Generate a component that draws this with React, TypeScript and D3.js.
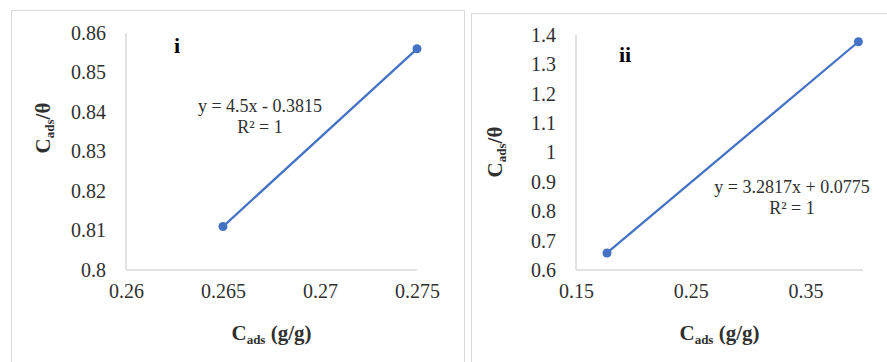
import { useEffect, useRef } from "react"
import * as d3 from "d3"

// panel i
const xI = [0.265, 0.275]
const yI = [0.811, 0.856]
const xTicksI = [0.26, 0.265, 0.27, 0.275]
const yTicksI = [0.8, 0.81, 0.82, 0.83, 0.84, 0.85, 0.86]
const eqI = ["y = 4.5x - 0.3815", "R² = 1"]

// panel ii
const xII = [0.177, 0.396]
const yII = [0.658, 1.377]
const xTicksII = [0.15, 0.25, 0.35]
const yTicksII = [0.6, 0.7, 0.8, 0.9, 1, 1.1, 1.2, 1.3, 1.4]
const eqII = ["y = 3.2817x + 0.0775", "R² = 1"]

const FONT = "Liberation Serif, Times New Roman, Times, serif"
const BLUE = "#4472c4"
const GRID = "#d9d9d9"
const INK = "#303030"

interface Panel {
  xs: number[]
  ys: number[]
  xTicks: number[]
  yTicks: number[]
  xDomain: [number, number]
  yDomain: [number, number]
  box: { x: number; y: number; w: number; h: number }
  plot: { left: number; right: number; top: number; bottom: number }
  label: string
  labelPos: [number, number]
  eq: string[]
  eqPos: [number, number]
  yTitleY: number
  yTitleX: number
}

export default function App() {
  const svgRef = useRef<SVGSVGElement>(null)

  useEffect(() => {
    if (!svgRef.current) return
    const svg = d3.select(svgRef.current)
    svg.selectAll("*").remove()

    const panels: Panel[] = [
      {
        xs: xI,
        ys: yI,
        xTicks: xTicksI,
        yTicks: yTicksI,
        xDomain: [0.26, 0.275],
        yDomain: [0.8, 0.86],
        box: { x: 11, y: 10, w: 453, h: 400 },
        plot: { left: 126, right: 417, top: 33, bottom: 270 },
        label: "i",
        labelPos: [174, 53],
        eq: eqI,
        eqPos: [260, 112],
        yTitleX: 50,
        yTitleY: 128,
      },
      {
        xs: xII,
        ys: yII,
        xTicks: xTicksII,
        yTicks: yTicksII,
        xDomain: [0.15, 0.4],
        yDomain: [0.6, 1.4],
        box: { x: 471, y: 13, w: 440, h: 400 },
        plot: { left: 576, right: 863, top: 35, bottom: 270 },
        label: "ii",
        labelPos: [619, 62],
        eq: eqII,
        eqPos: [792, 193],
        yTitleX: 502,
        yTitleY: 152,
      },
    ]

    panels.forEach((p) => {
      const g = svg.append("g").attr("font-family", FONT)

      g.append("rect")
        .attr("x", p.box.x + 0.5)
        .attr("y", p.box.y + 0.5)
        .attr("width", p.box.w)
        .attr("height", p.box.h)
        .attr("fill", "white")
        .attr("stroke", GRID)

      const x = d3.scaleLinear().domain(p.xDomain).range([p.plot.left, p.plot.right])
      const y = d3.scaleLinear().domain(p.yDomain).range([p.plot.bottom, p.plot.top])

      // axes
      const xAxis = g
        .append("g")
        .attr("transform", `translate(0,${p.plot.bottom})`)
        .call(d3.axisBottom(x).tickValues(p.xTicks).tickSize(0).tickPadding(14).tickFormat((d) => String(d)))
      const yAxis = g
        .append("g")
        .attr("transform", `translate(${p.plot.left},0)`)
        .call(d3.axisLeft(y).tickValues(p.yTicks).tickSize(0).tickPadding(20).tickFormat((d) => String(d)))

      ;[xAxis, yAxis].forEach((a) => {
        a.attr("font-family", FONT).attr("font-size", 20)
        a.select(".domain").attr("stroke", GRID).attr("stroke-width", 1.5)
        a.selectAll("text").attr("fill", INK)
      })
      xAxis.select(".domain").attr("d", `M${p.plot.left},0H${p.plot.right}`)
      yAxis.select(".domain").attr("d", `M0,${p.plot.top}V${p.plot.bottom}`)

      // line + markers
      const pts = p.xs.map((v, i) => [v, p.ys[i]] as [number, number])
      const line = d3
        .line<[number, number]>()
        .x((d) => x(d[0]))
        .y((d) => y(d[1]))
      g.append("path")
        .attr("d", line(pts))
        .attr("fill", "none")
        .attr("stroke", BLUE)
        .attr("stroke-width", 2.25)
      g.selectAll(".pt")
        .data(pts)
        .enter()
        .append("circle")
        .attr("cx", (d) => x(d[0]))
        .attr("cy", (d) => y(d[1]))
        .attr("r", 4.5)
        .attr("fill", BLUE)

      // panel label
      g.append("text")
        .attr("x", p.labelPos[0])
        .attr("y", p.labelPos[1])
        .attr("font-weight", "bold")
        .attr("font-size", 22)
        .text(p.label)

      // equation
      p.eq.forEach((t, i) => {
        g.append("text")
          .attr("x", p.eqPos[0])
          .attr("y", p.eqPos[1] + i * 21)
          .attr("text-anchor", "middle")
          .attr("font-size", 18)
          .attr("fill", INK)
          .text(t)
      })

      // x title
      const xt = g
        .append("text")
        .attr("x", (p.plot.left + p.plot.right) / 2)
        .attr("y", 340)
        .attr("text-anchor", "middle")
        .attr("font-weight", "bold")
        .attr("font-size", 21)
        .attr("fill", INK)
      xt.append("tspan").text("C")
      xt.append("tspan").attr("dy", 4).attr("font-size", 13).text("ads")
      xt.append("tspan").attr("dy", -4).text(" (g/g)")

      // y title
      const yt = g
        .append("text")
        .attr("transform", `translate(${p.yTitleX},${p.yTitleY}) rotate(-90)`)
        .attr("text-anchor", "middle")
        .attr("font-weight", "bold")
        .attr("font-size", 21)
        .attr("fill", INK)
      yt.append("tspan").text("C")
      yt.append("tspan").attr("dy", 4).attr("font-size", 13).text("ads")
      yt.append("tspan").attr("dy", -4).text("/θ")
    })
  }, [])

  return (
    <svg
      ref={svgRef}
      width={887}
      height={362}
      style={{ position: "absolute", left: 0, top: 0, background: "white" }}
    ></svg>
  )
}
